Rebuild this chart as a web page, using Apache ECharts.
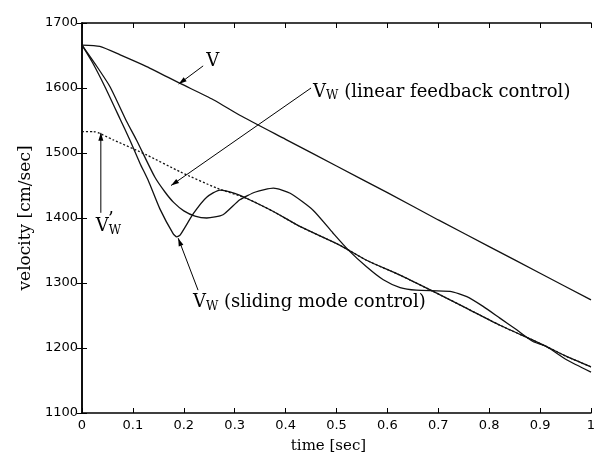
<!DOCTYPE html>
<html>
<head>
<meta charset="utf-8">
<script src="https://cdn.jsdelivr.net/npm/echarts@6/dist/echarts.min.js"></script>
<style>
  html, body { margin: 0; padding: 0; background: #fff; }
  #chart { width: 601px; height: 459px; }
</style>
</head>
<body>
<div id="chart"></div>
<script>
// V (vehicle velocity)
const vTime = [0, 0.035, 0.075, 0.127, 0.193, 0.258, 0.31, 0.4, 0.5, 0.6, 0.7, 0.8, 0.9, 1.0];
const vVals = [1666, 1664, 1651, 1633, 1607, 1582, 1558, 1521, 1480, 1439, 1397, 1356, 1315, 1274];

// V'w (dashed reference)
const refTime = [0, 0.022, 0.062, 0.127, 0.193, 0.265, 0.324, 0.376, 0.428, 0.507, 0.559, 0.625, 0.69, 0.756, 0.821, 0.886, 0.913, 0.952, 1.0];
const refVals = [1533, 1533, 1520, 1497, 1471, 1446, 1430, 1410, 1387, 1358, 1335, 1312, 1287, 1261, 1235, 1212, 1202, 1187, 1171];

// Vw sliding mode control
const smTime = [0, 0.02, 0.045, 0.075, 0.094, 0.114, 0.13, 0.153, 0.179, 0.186, 0.193, 0.219, 0.245, 0.271, 0.3, 0.324, 0.376, 0.428, 0.507, 0.559, 0.625, 0.69, 0.756, 0.821, 0.886, 0.913, 0.952, 1.0];
const smVals = [1666, 1640, 1602, 1552, 1520, 1484, 1458, 1414, 1376, 1371, 1374, 1407, 1432, 1443, 1438, 1430, 1410, 1387, 1358, 1335, 1312, 1287, 1261, 1235, 1212, 1202, 1187, 1171];

// Vw linear feedback control
const lfTime = [0, 0.025, 0.055, 0.088, 0.107, 0.143, 0.163, 0.18, 0.2, 0.222, 0.245, 0.277, 0.31, 0.341, 0.376, 0.409, 0.454, 0.493, 0.523, 0.559, 0.592, 0.625, 0.657, 0.723, 0.756, 0.788, 0.821, 0.854, 0.886, 0.913, 0.952, 1.0];
const lfVals = [1666, 1638, 1602, 1548, 1520, 1463, 1440, 1424, 1411, 1403, 1400, 1405, 1428, 1440, 1446, 1438, 1412, 1377, 1351, 1325, 1305, 1293, 1289, 1287, 1279, 1264, 1246, 1228, 1210, 1202, 1182, 1163];

const pairs = (t, v) => t.map((x, i) => [x, v[i]]);

const serif = 'DejaVu Serif';
const sans = 'DejaVu Sans';

const lineSeries = (name, t, v, dashed) => ({
  name: name,
  type: 'line',
  data: pairs(t, v),
  showSymbol: false,
  smooth: 0.2,
  lineStyle: { color: '#111', width: 1.3, type: dashed ? [2, 2] : 'solid' },
  z: dashed ? 1 : 2,
});

const xAxisBase = {
  type: 'value',
  min: 0,
  max: 1,
  interval: 0.1,
  axisLine: { show: true, lineStyle: { color: '#000', width: 1.5 } },
  axisTick: { show: true, inside: true, length: 5, lineStyle: { color: '#000' } },
  splitLine: { show: false },
};
const yAxisBase = {
  type: 'value',
  min: 1100,
  max: 1700,
  interval: 100,
  axisLine: { show: true, lineStyle: { color: '#000', width: 1.5 } },
  axisTick: { show: true, inside: true, length: 5, lineStyle: { color: '#000' } },
  splitLine: { show: false },
};

const chart = echarts.init(document.getElementById('chart'));
chart.setOption({
  animation: false,
  backgroundColor: '#fff',
  grid: { left: 82, right: 10, top: 23, bottom: 46 },
  xAxis: [
    Object.assign({}, xAxisBase, {
      position: 'bottom',
      name: 'time [sec]',
      nameLocation: 'middle',
      nameGap: 26,
      nameTextStyle: { fontFamily: serif, fontSize: 15, color: '#000', padding: [0, 16, 0, 0] },
      axisLabel: {
        margin: 6,
        fontFamily: sans,
        fontSize: 13,
        color: '#000',
        formatter: (val) => String(parseFloat(val.toFixed(1))),
      },
    }),
    Object.assign({}, xAxisBase, { position: 'top', axisLabel: { show: false } }),
  ],
  yAxis: [
    Object.assign({}, yAxisBase, {
      position: 'left',
      name: 'velocity [cm/sec]',
      nameLocation: 'middle',
      nameGap: 35,
      nameTextStyle: { fontFamily: serif, fontSize: 17, color: '#000' },
      axisLabel: { margin: 4, fontFamily: sans, fontSize: 13, color: '#000', formatter: (val) => String(val) },
    }),
    Object.assign({}, yAxisBase, { position: 'right', axisLabel: { show: false } }),
  ],
  series: [
    lineSeries("V'w", refTime, refVals, true),
    lineSeries('V', vTime, vVals, false),
    lineSeries('Vw sliding', smTime, smVals, false),
    lineSeries('Vw linear', lfTime, lfVals, false),
  ],
});

// annotations, in data coords: [tail, tip] for arrows
const annos = [
  { text: '{v|V}', at: [0.244, 1641], arrow: [[0.238, 1634], [0.19, 1606]] },
  { text: '{v|V}{s|W}{v| (linear feedback control)}', at: [0.454, 1594], arrow: [[0.45, 1600], [0.175, 1450]] },
  { text: '{v|V}{s|W}', at: [0.027, 1387], arrow: [[0.037, 1408], [0.037, 1531]] },
  { text: '{v|V}{s|W}{v| (sliding mode control)}', at: [0.218, 1270], arrow: [[0.228, 1289], [0.189, 1369]] },
];

const rich = {
  v: { fontFamily: serif, fontSize: 18, fill: '#000', color: '#000' },
  s: { fontFamily: serif, fontSize: 12, fill: '#000', color: '#000', padding: [8, 0, 0, 0] },
};

const px = (p) => chart.convertToPixel({ gridIndex: 0 }, p);

const graphics = [];
annos.forEach((a) => {
  const p = px(a.at);
  graphics.push({
    type: 'text',
    x: p[0],
    y: p[1],
    style: { text: a.text, rich: rich, verticalAlign: 'middle', align: 'left', fill: '#000' },
  });
  const t0 = px(a.arrow[0]);
  const t1 = px(a.arrow[1]);
  graphics.push({
    type: 'line',
    shape: { x1: t0[0], y1: t0[1], x2: t1[0], y2: t1[1] },
    style: { stroke: '#000', lineWidth: 1 },
  });
  const ang = Math.atan2(t1[1] - t0[1], t1[0] - t0[0]);
  const len = 8, half = 2.5;
  const bx = t1[0] - len * Math.cos(ang), by = t1[1] - len * Math.sin(ang);
  graphics.push({
    type: 'polygon',
    shape: {
      points: [
        [t1[0], t1[1]],
        [bx + half * Math.sin(ang), by - half * Math.cos(ang)],
        [bx - half * Math.sin(ang), by + half * Math.cos(ang)],
      ],
    },
    style: { fill: '#000' },
  });
});
// prime mark on V'w
const pp = px([0.051, 1397]);
graphics.push({
  type: 'text',
  x: pp[0],
  y: pp[1],
  style: { text: '\u2019', fontFamily: serif, fontSize: 18, fill: '#000', verticalAlign: 'middle' },
});

chart.setOption({ graphic: graphics });
</script>
</body>
</html>
